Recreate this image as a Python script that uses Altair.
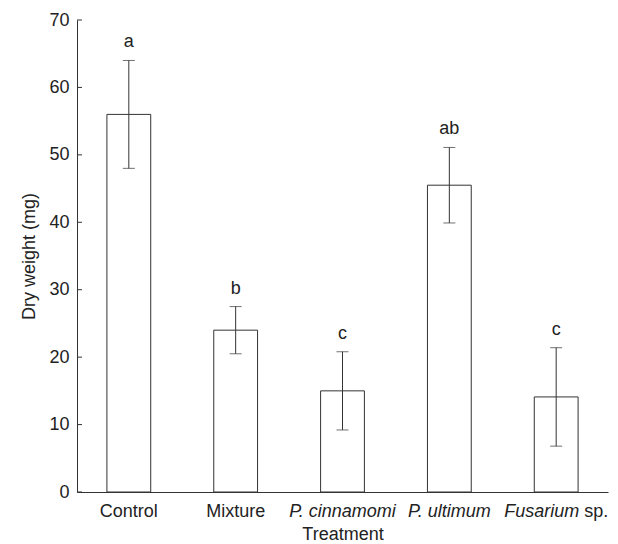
import altair as alt
import pandas as pd

treatments = ["Control", "Mixture", "P. cinnamomi", "P. ultimum", "Fusarium sp."]
italic_part = ["", "", "P. cinnamomi", "P. ultimum", "Fusarium"]
plain_part = ["Control", "Mixture", "", "", "sp."]
means = [56.0, 24.0, 15.0, 45.5, 14.1]
errors = [8.0, 3.5, 5.8, 5.6, 7.3]
letters = ["a", "b", "c", "ab", "c"]
y_ticks = [0, 10, 20, 30, 40, 50, 60, 70]

df = pd.DataFrame({
    "treatment": treatments,
    "ital": italic_part,
    "plain": plain_part,
    "mean": means,
    "err": errors,
    "letter": letters,
})
df["lo"] = df["mean"] - df["err"]
df["hi"] = df["mean"] + df["err"]
ticks_df = pd.DataFrame({"v": y_ticks})

FONT = "Liberation Sans"
INK = "#333333"
TXT = "#222222"

xenc = alt.X(
    "treatment:N", sort=treatments,
    scale=alt.Scale(paddingInner=0.59, paddingOuter=0.28),
    axis=alt.Axis(title="Treatment", labels=False, ticks=False, titlePadding=33),
)
yscale = alt.Scale(domain=[0, 70], nice=False, zero=True)

base = alt.Chart(df)

bars = base.mark_bar(fill="white", stroke=INK, strokeWidth=1).encode(
    x=xenc,
    y=alt.Y("mean:Q", scale=yscale,
            axis=alt.Axis(values=y_ticks, ticks=False, tickSize=0, grid=False,
                          title="Dry weight (mg)", labelPadding=8, titlePadding=10)),
)
err = base.mark_rule(color=INK, strokeWidth=1).encode(
    x=alt.X("treatment:N", sort=treatments), y="lo:Q", y2="hi:Q")
cap_lo = base.mark_tick(color=INK, size=12, thickness=1, orient="horizontal").encode(
    x=alt.X("treatment:N", sort=treatments), y="lo:Q")
cap_hi = base.mark_tick(color=INK, size=12, thickness=1, orient="horizontal").encode(
    x=alt.X("treatment:N", sort=treatments), y="hi:Q")
lets = base.mark_text(font=FONT, fontSize=18, color=TXT, baseline="alphabetic", dy=-13).encode(
    x=alt.X("treatment:N", sort=treatments), y="hi:Q", text="letter:N")

ytick_marks = alt.Chart(ticks_df).mark_rule(color=INK, strokeWidth=1).encode(
    y="v:Q", x=alt.value(0), x2=alt.value(5))

lab_plain = base.transform_filter(alt.datum.ital == "").mark_text(
    font=FONT, fontSize=18, color=TXT, baseline="alphabetic", dy=25).encode(
    x=alt.X("treatment:N", sort=treatments), y=alt.datum(0), text="plain:N")
lab_ital = base.transform_filter(alt.datum.plain == "").mark_text(
    font=FONT, fontSize=18, fontStyle="italic", color=TXT, baseline="alphabetic", dy=25).encode(
    x=alt.X("treatment:N", sort=treatments), y=alt.datum(0), text="ital:N")
mixed = base.transform_filter((alt.datum.plain != "") & (alt.datum.ital != ""))
lab_mix_i = mixed.mark_text(
    font=FONT, fontSize=18, fontStyle="italic", color=TXT, baseline="alphabetic",
    align="right", dx=23, dy=25).encode(
    x=alt.X("treatment:N", sort=treatments), y=alt.datum(0), text="ital:N")
lab_mix_p = mixed.mark_text(
    font=FONT, fontSize=18, color=TXT, baseline="alphabetic",
    align="left", dx=28, dy=25).encode(
    x=alt.X("treatment:N", sort=treatments), y=alt.datum(0), text="plain:N")

chart = alt.layer(
    bars, err, cap_lo, cap_hi, lets, ytick_marks,
    lab_plain, lab_ital, lab_mix_i, lab_mix_p,
).properties(
    width=531, height=472,
    padding={"left": 69, "top": 12, "right": 2, "bottom": 52},
    autosize=alt.AutoSizeParams(type="none"),
).configure_view(stroke=None).configure_axis(
    domainColor=INK, domainWidth=1,
    labelFont=FONT, labelFontSize=18, labelColor=TXT,
    titleFont=FONT, titleFontSize=18, titleColor=TXT, titleFontWeight="normal",
    grid=False,
)

chart.save("out.html", embed_options={"renderer": "svg", "actions": False})
